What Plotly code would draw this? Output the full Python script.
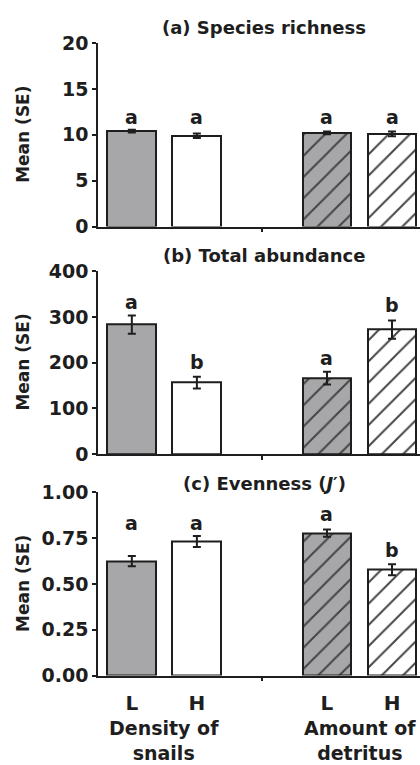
import plotly.graph_objects as go

# ---------------- data ----------------
x_pos = [0, 1, 3, 4]                      # L, H (snails) | gap | L, H (detritus)
tick_labels = ["L", "H", "L", "H"]
group_labels = ["Density of<br>snails", "Amount of<br>detritus"]
group_centers = [0.5, 3.5]

richness_mean = [10.4, 9.9, 10.2, 10.1]
richness_se = [0.15, 0.25, 0.15, 0.25]
richness_letters = ["a", "a", "a", "a"]
richness_letter_y = [11.9, 11.9, 11.9, 11.9]

abund_mean = [283, 156, 166, 272]
abund_se = [20, 13, 14, 20]
abund_letters = ["a", "b", "a", "b"]
abund_letter_y = [332, 201, 209, 326]

even_mean = [0.625, 0.732, 0.778, 0.578]
even_se = [0.028, 0.030, 0.020, 0.030]
even_letters = ["a", "a", "a", "b"]
even_letter_y = [0.835, 0.835, 0.881, 0.685]

panel_titles = ["(a) Species richness", "(b) Total abundance",
                "(c) Evenness (<i>J</i>′)"]

fill_colors = ["#a7a7a9", "#ffffff", "#a7a7a9", "#ffffff"]
pattern_shapes = ["", "", "/", "/"]

# ---------------- layout helpers ----------------
W, H = 420, 765
INK = "#1e1e1e"
FONT = "DejaVu Sans"

def py(p):  # pixel y (from top) -> paper
    return 1 - p / H

def px(p):
    return p / W

domains = [
    [py(222), py(33)],
    [py(456), py(268)],
    [py(684.3), py(495.7)],
]
title_y = [17, 252, 486]

fig = go.Figure()

panels = [
    (richness_mean, richness_se, richness_letters, richness_letter_y, [0, 20], 5, None),
    (abund_mean, abund_se, abund_letters, abund_letter_y, [0, 400], 100, None),
    (even_mean, even_se, even_letters, even_letter_y, [0, 1], 0.25, ".2f"),
]

annotations = []
for i, (mean, se, letters, ly, yr, dt, fmt) in enumerate(panels):
    xa = "x" if i == 0 else f"x{i+1}"
    ya = "y" if i == 0 else f"y{i+1}"
    fig.add_trace(go.Bar(
        x=x_pos, y=mean, width=0.75,
        xaxis=xa, yaxis=ya,
        marker=dict(
            color=fill_colors,
            line=dict(color=INK, width=2),
            pattern=dict(shape=pattern_shapes, size=15, solidity=0.13,
                         fgcolor="#000000", fgopacity=1),
        ),
        error_y=dict(type="data", array=se, visible=True,
                     color=INK, thickness=2, width=4),
        showlegend=False, hoverinfo="skip",
    ))
    for xv, t, yv in zip(x_pos, letters, ly):
        annotations.append(dict(
            x=xv, y=yv, xref=xa, yref=ya, text=t, showarrow=False,
            yanchor="middle", xanchor="center",
            font=dict(family=FONT, size=19, color=INK, weight="bold"),
        ))
    annotations.append(dict(
        x=px(264), y=py(title_y[i]), xref="paper", yref="paper",
        text=panel_titles[i], showarrow=False, xanchor="center", yanchor="middle",
        font=dict(family=FONT, size=18, color=INK, weight="bold"),
    ))
    annotations.append(dict(
        x=px(23), y=sum(domains[i]) / 2, xref="paper", yref="paper",
        text="Mean (SE)", showarrow=False, textangle=-90,
        xanchor="center", yanchor="middle",
        font=dict(family=FONT, size=17, color=INK, weight="bold"),
    ))

    xkey = "xaxis" if i == 0 else f"xaxis{i+1}"
    ykey = "yaxis" if i == 0 else f"yaxis{i+1}"
    xaxis = dict(
        domain=[px(98), 1.0], range=[-0.52, 4.43], anchor=ya,
        showline=True, linecolor=INK, linewidth=1.5,
        showgrid=False, zeroline=False, fixedrange=True,
        ticks="", showticklabels=False,
        minor=dict(tickmode="array", tickvals=[2], ticks="outside",
                   ticklen=4, tickwidth=1.5, tickcolor=INK, showgrid=False),
    )
    if i == 2:
        xaxis.update(tickmode="array", tickvals=x_pos, ticktext=tick_labels,
                     showticklabels=True, ticklabelstandoff=9,
                     tickfont=dict(family=FONT, size=20, color=INK, weight="bold"))
    yaxis = dict(
        domain=domains[i], range=yr, dtick=dt, tick0=0, anchor=xa,
        showline=True, linecolor=INK, linewidth=1.5,
        ticks="outside", ticklen=4, tickwidth=1.5, tickcolor=INK,
        showgrid=False, zeroline=False, fixedrange=True,
        tickfont=dict(family=FONT, size=19, color=INK, weight="bold"),
    )
    if fmt:
        yaxis["tickformat"] = fmt
    fig.update_layout(**{xkey: xaxis, ykey: yaxis})

for gx, gl in zip(group_centers, group_labels):
    annotations.append(dict(
        x=gx, y=py(751), xref="x3", yref="paper", text=gl, showarrow=False,
        xanchor="center", yanchor="middle", align="center",
        font=dict(family=FONT, size=19, color=INK, weight="bold"),
    ))

fig.update_layout(
    width=W, height=H, margin=dict(l=0, r=0, t=0, b=0),
    paper_bgcolor="white", plot_bgcolor="white",
    annotations=annotations, bargap=0,
)

fig.write_html("out.html", config={"displayModeBar": False})
